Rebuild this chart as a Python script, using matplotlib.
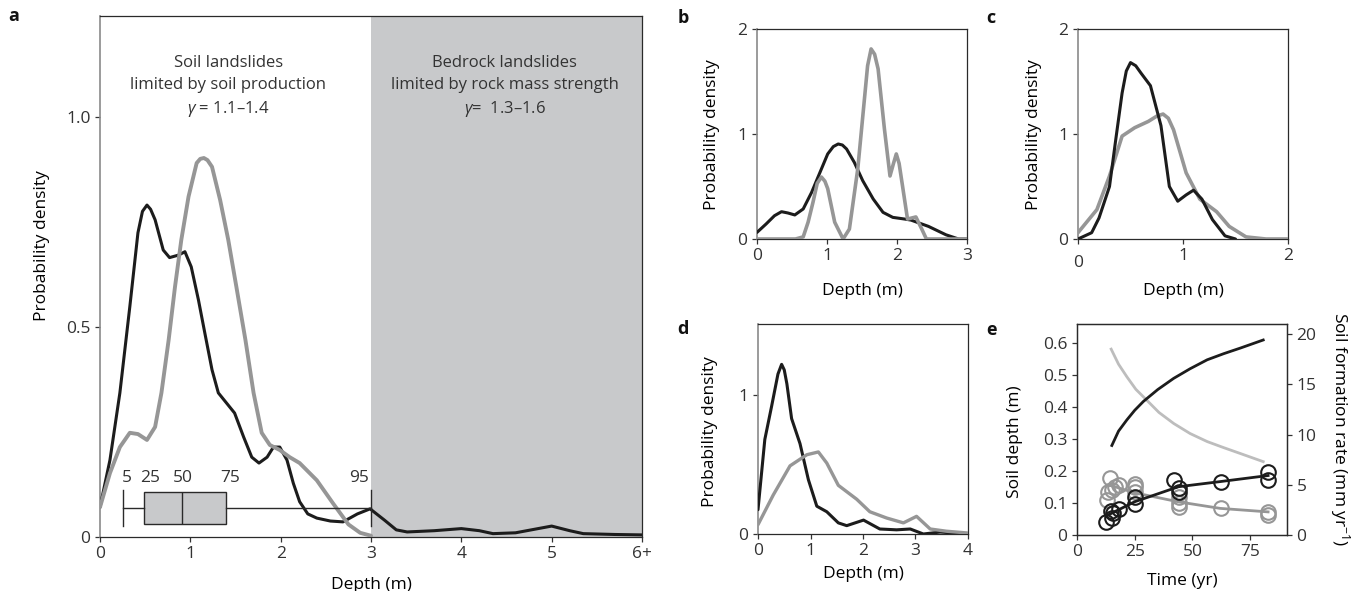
import matplotlib
matplotlib.use('Agg')
import matplotlib.pyplot as plt
import matplotlib.transforms as mtransforms

plt.rcParams['font.family'] = ['Open Sans', 'DejaVu Sans']
plt.rcParams['mathtext.fontset'] = 'custom'
plt.rcParams['mathtext.rm'] = 'Open Sans'
plt.rcParams['mathtext.it'] = 'Open Sans:italic'
plt.rcParams['font.size'] = 12
plt.rcParams['text.color'] = '#333333'

BLACK = '#1c1c1c'
GREY = '#969696'
LIGHT = '#bdbdbd'
SHADE = '#c8c9cb'
LABEL_FS = 12.5
TICK_FS = 12.5

### panel a: probability density of landslide depth
a_black_x = [0, 0.11, 0.22, 0.33, 0.42, 0.47, 0.52, 0.56, 0.61, 0.70, 0.77, 0.87, 0.94, 1.01, 1.09, 1.16,
             1.24, 1.31, 1.40, 1.49, 1.59, 1.68, 1.76, 1.85, 1.92, 1.99, 2.07, 2.14, 2.21, 2.30, 2.40,
             2.55, 2.69, 2.85, 2.99, 3.15, 3.28, 3.40, 3.70, 4.00, 4.20, 4.35, 4.60, 4.80, 5.00, 5.20,
             5.35, 5.70, 6.00]
a_black_y = [0.071, 0.183, 0.343, 0.548, 0.724, 0.775, 0.790, 0.780, 0.755, 0.683, 0.665, 0.671, 0.679,
             0.643, 0.564, 0.486, 0.398, 0.343, 0.319, 0.295, 0.238, 0.190, 0.176, 0.190, 0.214, 0.214,
             0.183, 0.128, 0.084, 0.055, 0.045, 0.038, 0.036, 0.055, 0.067, 0.040, 0.017, 0.012, 0.015,
             0.020, 0.015, 0.008, 0.010, 0.018, 0.026, 0.015, 0.008, 0.006, 0.005]
a_grey_x = [0, 0.11, 0.22, 0.33, 0.42, 0.52, 0.61, 0.68, 0.76, 0.83, 0.90, 0.98, 1.07, 1.11, 1.15, 1.19,
            1.24, 1.33, 1.42, 1.51, 1.61, 1.70, 1.79, 1.88, 1.99, 2.10, 2.21, 2.40, 2.58, 2.75, 2.88, 3.0]
a_grey_y = [0.071, 0.152, 0.214, 0.248, 0.245, 0.231, 0.262, 0.343, 0.469, 0.595, 0.707, 0.810, 0.890,
            0.900, 0.902, 0.897, 0.881, 0.802, 0.707, 0.595, 0.469, 0.343, 0.248, 0.219, 0.207, 0.190,
            0.176, 0.135, 0.080, 0.030, 0.010, 0.003]
# percentiles of depth (5, 25, 50, 75, 95)
pct_names = ['5', '25', '50', '75', '95']
pct_depth = [0.26, 0.49, 0.91, 1.40, 3.0]
pct_label_x = [0.30, 0.55, 0.92, 1.44, 2.87]

### panel b
b_black_x = [0, 0.13, 0.25, 0.35, 0.44, 0.54, 0.66, 0.78, 0.90, 1.01, 1.09, 1.16, 1.22, 1.28, 1.39, 1.51,
             1.66, 1.80, 1.94, 2.11, 2.20, 2.45, 2.70, 2.88, 3.0]
b_black_y = [0.063, 0.143, 0.222, 0.26, 0.248, 0.229, 0.286, 0.444, 0.635, 0.81, 0.88, 0.905, 0.895,
             0.857, 0.73, 0.556, 0.381, 0.254, 0.206, 0.19, 0.18, 0.12, 0.04, 0.0, 0.0]
b_grey_x = [0, 0.55, 0.66, 0.73, 0.80, 0.86, 0.92, 0.97, 1.01, 1.11, 1.23, 1.32, 1.44, 1.54, 1.58, 1.63,
            1.68, 1.73, 1.82, 1.90, 1.95, 1.99, 2.03, 2.08, 2.15, 2.27, 2.35, 2.42, 3.0]
b_grey_y = [0, 0, 0.02, 0.16, 0.35, 0.53, 0.59, 0.55, 0.48, 0.16, 0.0, 0.095, 0.67, 1.37, 1.65, 1.81,
            1.76, 1.62, 1.05, 0.60, 0.72, 0.81, 0.72, 0.50, 0.19, 0.21, 0.10, 0.0, 0.0]

### panel c
c_black_x = [0, 0.13, 0.20, 0.30, 0.36, 0.42, 0.46, 0.50, 0.55, 0.60, 0.69, 0.79, 0.87, 0.95, 1.03, 1.10,
             1.18, 1.28, 1.40, 1.50]
c_black_y = [0, 0.06, 0.20, 0.50, 0.95, 1.39, 1.60, 1.68, 1.65, 1.58, 1.46, 1.08, 0.50, 0.36, 0.42,
             0.465, 0.38, 0.185, 0.03, 0]
c_grey_x = [0, 0.18, 0.30, 0.42, 0.54, 0.67, 0.75, 0.81, 0.86, 0.91, 1.03, 1.16, 1.32, 1.44, 1.60, 1.79, 2.0]
c_grey_y = [0.06, 0.28, 0.60, 0.98, 1.06, 1.12, 1.17, 1.19, 1.15, 1.04, 0.63, 0.38, 0.26, 0.12, 0.02, 0, 0]

### panel d
d_black_x = [0, 0.13, 0.26, 0.38, 0.45, 0.50, 0.55, 0.64, 0.80, 0.96, 1.12, 1.31, 1.53, 1.69, 2.01, 2.32,
             2.64, 2.90, 3.15, 3.47, 4.0]
d_black_y = [0.175, 0.68, 0.92, 1.15, 1.22, 1.18, 1.08, 0.83, 0.65, 0.39, 0.20, 0.16, 0.08, 0.06, 0.10,
             0.036, 0.03, 0.036, 0.0, 0.014, 0.0]
d_grey_x = [0, 0.29, 0.61, 0.93, 1.15, 1.31, 1.53, 1.88, 2.13, 2.45, 2.77, 3.02, 3.28, 3.59, 4.0]
d_grey_y = [0.067, 0.28, 0.49, 0.57, 0.59, 0.51, 0.35, 0.25, 0.16, 0.115, 0.08, 0.127, 0.036, 0.02, 0.007]

### panel e: soil depth and formation rate vs time
e_depth_curve_t = [15.1, 18.0, 21.6, 25.0, 28.8, 35.0, 41.9, 49.0, 56.4, 63.5, 70.9, 80.7]
e_depth_curve = [0.28, 0.325, 0.36, 0.39, 0.418, 0.455, 0.49, 0.52, 0.548, 0.567, 0.585, 0.61]
e_rate_curve_t = [14.8, 18.0, 21.6, 25.5, 30.3, 35.5, 41.9, 49.0, 56.4, 63.5, 70.9, 80.7]
e_rate_curve = [18.5, 17.0, 15.75, 14.5, 13.4, 12.2, 11.1, 10.1, 9.3, 8.7, 8.1, 7.3]
e_depth_obs_t = [12.5, 14.6, 15.1, 15.8, 18.0, 25.2, 25.2, 41.9, 44.1, 44.0, 62.2, 82.8, 82.8]
e_depth_obs = [0.04, 0.076, 0.052, 0.068, 0.08, 0.097, 0.12, 0.172, 0.146, 0.136, 0.167, 0.198, 0.172]
e_depth_fit_t = [13.6, 25.0, 44.0, 62.0, 82.8]
e_depth_fit = [0.063, 0.104, 0.151, 0.167, 0.186]
e_rate_obs_t = [14.3, 12.9, 13.6, 15.0, 16.5, 18.0, 25.2, 25.2, 25.2, 44.0, 44.0, 44.0, 62.2, 82.8, 82.8]
e_rate_obs = [5.64, 3.5, 4.3, 4.5, 4.8, 5.0, 5.1, 4.8, 4.3, 3.8, 3.15, 2.8, 2.65, 2.3, 2.0]
e_rate_fit_t = [13.6, 25.0, 44.0, 62.0, 82.8]
e_rate_fit = [5.0, 4.2, 3.3, 2.65, 2.3]

W, H = 1354, 591
fig = plt.figure(figsize=(W / 100, H / 100), dpi=100)


def px_axes(l, t, r, b):
    return fig.add_axes([l / W, 1 - b / H, (r - l) / W, (b - t) / H])


def style(ax, left_grey=True):
    for s in ax.spines.values():
        s.set_color('#2a2a2a')
        s.set_linewidth(0.9)
    if left_grey:
        ax.spines['left'].set_color('#8a8a8a')
        ax.spines['left'].set_linewidth(1.2)
    ax.tick_params(direction='out', length=3.8, width=0.9, color='#333333',
                   labelcolor='#333333', labelsize=TICK_FS, pad=3)


def curve(ax, x, y, color, lw):
    ax.plot(x, y, color=color, lw=lw, solid_joinstyle='round', solid_capstyle='round', zorder=3)


# ---------------- panel a
ax = px_axes(100, 16, 642, 537)
style(ax)
ax.axvspan(3, 6, color=SHADE, lw=0, zorder=0)
curve(ax, a_black_x, a_black_y, BLACK, 2.2)
curve(ax, a_grey_x, a_grey_y, GREY, 2.8)
stats = [dict(whislo=pct_depth[0], q1=pct_depth[1], med=pct_depth[2], q3=pct_depth[3],
              whishi=pct_depth[4], fliers=[])]
ax.bxp(stats, positions=[0.069], widths=0.074, capwidths=[0.085], orientation='horizontal',
       patch_artist=True, manage_ticks=False,
       boxprops=dict(facecolor=SHADE, edgecolor='#2a2a2a', lw=1.0),
       whiskerprops=dict(color='#2a2a2a', lw=1.0), capprops=dict(color='#2a2a2a', lw=1.0),
       medianprops=dict(color='#2a2a2a', lw=1.0), zorder=4)
for name, lx in zip(pct_names, pct_label_x):
    ax.text(lx, 0.14, name, ha='center', va='center', fontsize=TICK_FS)
ax.text(1.42, 1.071, 'Soil landslides\nlimited by soil production\n$\\gamma$ = 1.1\u20131.4',
        ha='center', va='center', fontsize=12, linespacing=1.45)
ax.text(4.48, 1.071, 'Bedrock landslides\nlimited by rock mass strength\n$\\gamma$=  1.3\u20131.6',
        ha='center', va='center', fontsize=12, linespacing=1.45)
ax.set_xlim(0, 6)
ax.set_ylim(0, 1.24)
ax.set_xticks(range(7))
ax.set_xticklabels(['0', '1', '2', '3', '4', '5', '6+'])
ax.set_yticks([0, 0.5, 1.0])
ax.set_yticklabels(['0', '0.5', '1.0'])
ax.set_ylabel('Probability density', fontsize=LABEL_FS)
ax.yaxis.set_label_coords(-0.092, 0.56)
ax.set_xlabel('Depth (m)', fontsize=LABEL_FS)
ax.xaxis.set_label_coords(0.5, -0.076)

# ---------------- panel b
ax = px_axes(757, 29, 967, 239)
style(ax)
curve(ax, b_black_x, b_black_y, BLACK, 2.2)
curve(ax, b_grey_x, b_grey_y, GREY, 2.6)
ax.set_xlim(0, 3)
ax.set_ylim(0, 2)
ax.set_xticks([0, 1, 2, 3])
ax.set_yticks([0, 1, 2])
ax.set_ylabel('Probability density', fontsize=LABEL_FS)
ax.yaxis.set_label_coords(-0.176, 0.495)
ax.set_xlabel('Depth (m)', fontsize=LABEL_FS)
ax.xaxis.set_label_coords(0.5, -0.21)

# ---------------- panel c
ax = px_axes(1078, 29, 1288, 239)
style(ax)
curve(ax, c_grey_x, c_grey_y, GREY, 2.6)
curve(ax, c_black_x, c_black_y, BLACK, 2.2)
ax.set_xlim(0, 2)
ax.set_ylim(0, 2)
ax.set_xticks([0, 1, 2])
ax.set_yticks([0, 1, 2])
ax.set_ylabel('Probability density', fontsize=LABEL_FS)
ax.yaxis.set_label_coords(-0.171, 0.495)
ax.set_xlabel('Depth (m)', fontsize=LABEL_FS)
ax.xaxis.set_label_coords(0.5, -0.21)
fig.canvas.draw()
lab0 = ax.get_xticklabels()[0]
lab0.set_transform(lab0.get_transform() + mtransforms.ScaledTranslation(0, -5 / 72, fig.dpi_scale_trans))

# ---------------- panel d
ax = px_axes(758, 324, 968, 534)
style(ax)
curve(ax, d_black_x, d_black_y, BLACK, 2.2)
curve(ax, d_grey_x, d_grey_y, GREY, 2.4)
ax.set_xlim(0, 4)
ax.set_ylim(0, 1.51)
ax.set_xticks([0, 1, 2, 3, 4])
ax.set_yticks([0, 1])
ax.set_ylabel('Probability density', fontsize=LABEL_FS)
ax.yaxis.set_label_coords(-0.19, 0.49)
ax.set_xlabel('Depth (m)', fontsize=LABEL_FS)
ax.xaxis.set_label_coords(0.5, -0.15)

# ---------------- panel e
ax = px_axes(1077, 324, 1287, 535)
style(ax, left_grey=False)
ax2 = ax.twinx()
style(ax2, left_grey=False)
ax2.plot(e_rate_curve_t, e_rate_curve, color=LIGHT, lw=2.0, zorder=2)
ax2.plot(e_rate_fit_t, e_rate_fit, color=GREY, lw=2.0, zorder=2)
ax2.plot(e_rate_obs_t, e_rate_obs, 'o', ms=10.5, mfc='none', mec=GREY, mew=1.5, zorder=3)
ax.set_zorder(ax2.get_zorder() + 1)
ax.patch.set_visible(False)
ax.plot(e_depth_curve_t, e_depth_curve, color=BLACK, lw=2.0, zorder=2)
ax.plot(e_depth_fit_t, e_depth_fit, color=BLACK, lw=2.0, zorder=2)
ax.plot(e_depth_obs_t, e_depth_obs, 'o', ms=10.5, mfc='none', mec=BLACK, mew=1.5, zorder=3)
ax.set_xlim(0, 91)
ax.set_ylim(0, 0.66)
ax2.set_ylim(0, 21)
ax.set_xticks([0, 25, 50, 75])
ax.set_yticks([0, 0.1, 0.2, 0.3, 0.4, 0.5, 0.6])
ax.set_yticklabels(['0', '0.1', '0.2', '0.3', '0.4', '0.5', '0.6'])
ax2.set_yticks([0, 5, 10, 15, 20])
ax.set_ylabel('Soil depth (m)', fontsize=LABEL_FS)
ax.yaxis.set_label_coords(-0.257, 0.44)
ax.set_xlabel('Time (yr)', fontsize=LABEL_FS)
ax.xaxis.set_label_coords(0.5, -0.18)
ax2.set_ylabel('Soil formation rate (mm yr$^{-1}$)', fontsize=LABEL_FS, rotation=270, va='center')
ax2.yaxis.set_label_coords(1.252, 0.5)

# panel letters
for letter, x, y in [('a', 14, 16), ('b', 683, 18), ('c', 991, 18), ('d', 683, 329), ('e', 992, 330)]:
    fig.text(x / W, 1 - y / H, letter, fontsize=13, fontweight='bold', ha='center', va='center',
             color='#111111')

fig.savefig('out.png', dpi=100)
